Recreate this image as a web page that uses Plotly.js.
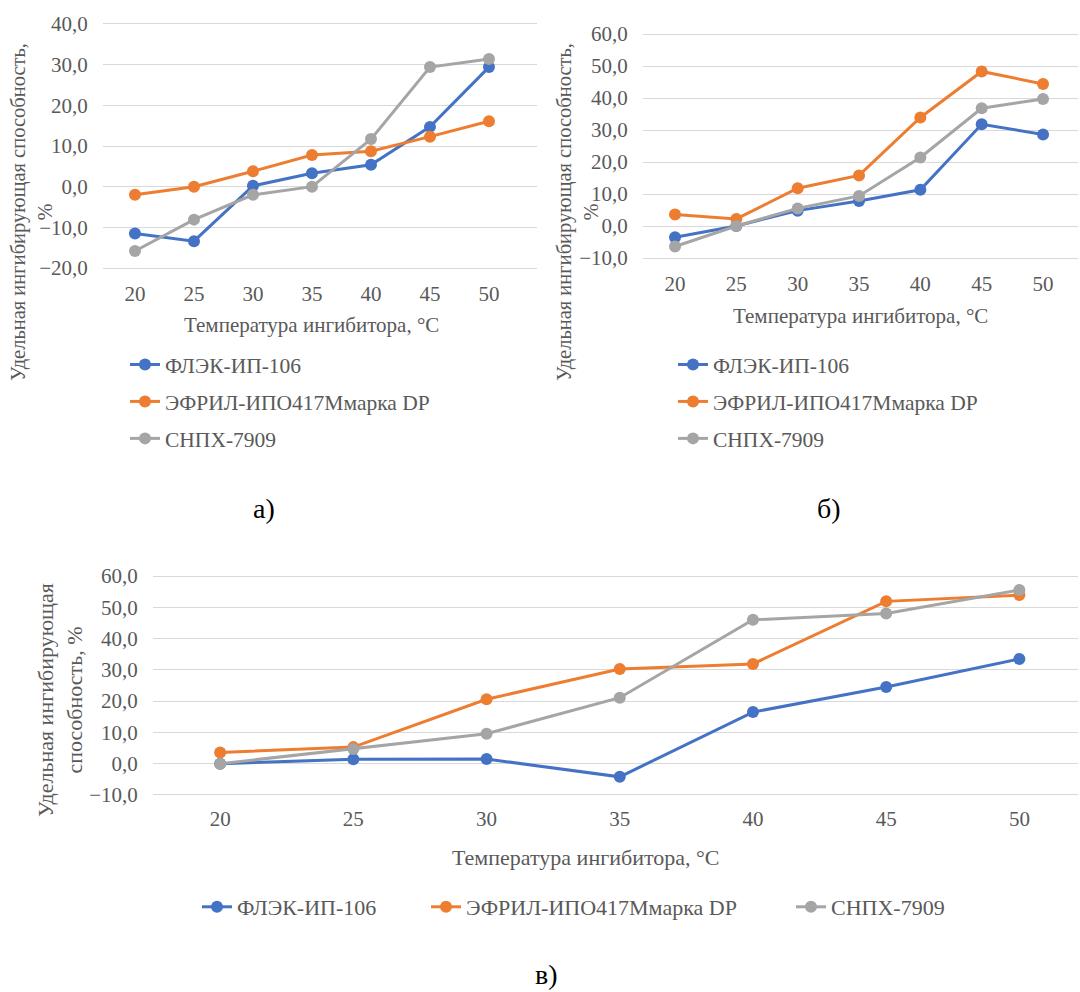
<!DOCTYPE html>
<html>
<head>
<meta charset="utf-8">
<script src="https://cdn.plot.ly/plotly-3.0.1.min.js"></script>
<style>html,body{margin:0;padding:0;background:#fff;}#chart{width:1080px;height:992px;}</style>
</head>
<body>
<div id="chart"></div>
<script>
// ---- data ----
const temps = [20, 25, 30, 35, 40, 45, 50];
const seriesNames = ["ФЛЭК-ИП-106", "ЭФРИЛ-ИПО417Ммарка DP", "СНПХ-7909"];
const seriesColors = ["#4472C4", "#ED7D31", "#A5A5A5"];

// а)
const a_flek  = [-11.5, -13.4, 0.2, 3.3, 5.4, 14.7, 29.4];
const a_efril = [-2.0, 0.0, 3.8, 7.8, 8.7, 12.3, 16.1];
const a_snpx  = [-15.8, -8.1, -2.0, 0.0, 11.7, 29.4, 31.4];
// б)
const b_flek  = [-3.5, 0.0, 4.8, 7.8, 11.3, 31.8, 28.6];
const b_efril = [3.6, 2.2, 11.8, 15.8, 33.9, 48.3, 44.4];
const b_snpx  = [-6.4, 0.0, 5.5, 9.4, 21.4, 36.8, 39.7];
// в)
const v_flek  = [0.0, 1.4, 1.5, -4.2, 16.5, 24.5, 33.5];
const v_efril = [3.6, 5.3, 20.6, 30.3, 31.9, 51.9, 53.9];
const v_snpx  = [0.0, 4.7, 9.6, 21.1, 46.0, 48.0, 55.5];

const xTitle = "Температура ингибитора, °C";
const yTitle1 = "Удельная ингибирующая способность,<br>%";
const yTitle2 = "Удельная ингибирующая<br>способность, %";
const panelLabels = ["а)", "б)", "в)"];

// ---- build ----
const FONT = "Liberation Serif";
const TXT = "#595959";
const panels = [
  {sets: [a_flek, a_efril, a_snpx], xa: "x",  ya: "y",  lg: ["legend", "legend", "legend"]},
  {sets: [b_flek, b_efril, b_snpx], xa: "x2", ya: "y2", lg: ["legend2", "legend2", "legend2"]},
  {sets: [v_flek, v_efril, v_snpx], xa: "x3", ya: "y3", lg: ["legend3", "legend4", "legend5"]}
];
const traces = [];
panels.forEach((p, pi) => {
  p.sets.forEach((vals, si) => {
    traces.push({
      x: temps, y: vals, type: "scatter", mode: "lines+markers",
      name: seriesNames[si], xaxis: p.xa, yaxis: p.ya, legend: p.lg[si],
      legendgroup: "g" + pi + "_" + si,
      line: {color: seriesColors[si], width: 3},
      marker: {color: seriesColors[si], size: 12, symbol: "circle"},
      hoverinfo: "x+y"
    });
  });
});

function xax(domain, range, tl) {
  return {domain: domain, range: range, tickvals: temps, ticktext: temps.map(String),
    showgrid: false, zeroline: false, showline: false, ticks: "outside", ticklen: tl,
    tickcolor: "rgba(0,0,0,0)", tickfont: {family: FONT, size: 21, color: TXT}, fixedrange: true};
}
function yax(domain, range, anchor) {
  return {domain: domain, range: range, dtick: 10, tickformat: ".1f", anchor: anchor,
    showgrid: true, gridcolor: "#D9D9D9", gridwidth: 1, zeroline: false, showline: false,
    ticks: "outside", ticklen: 10, tickcolor: "rgba(0,0,0,0)",
    tickfont: {family: FONT, size: 21, color: TXT}, fixedrange: true};
}
const W = 1080, H = 992;
const px = v => v / W, py = v => 1 - v / H;

const legendBase = {font: {family: FONT, size: 21.5, color: TXT}, bgcolor: "rgba(0,0,0,0)",
  borderwidth: 0, tracegroupgap: 6, itemclick: false, itemdoubleclick: false};
const hLeg = xpx => Object.assign({}, legendBase, {font: {family: FONT, size: 22, color: TXT},
  orientation: "h", x: px(xpx), y: py(907), xanchor: "left", yanchor: "middle", tracegroupgap: 0});

const ann = (text, x, y, size, extra) => Object.assign({text: text, xref: "paper", yref: "paper",
  x: px(x), y: py(y), showarrow: false, xanchor: "center", yanchor: "middle",
  font: {family: FONT, size: size, color: TXT}}, extra || {});

const layout = {
  width: W, height: H, margin: {l: 0, r: 0, t: 0, b: 0},
  paper_bgcolor: "#fff", plot_bgcolor: "rgba(0,0,0,0)",
  separators: ", ",
  font: {family: FONT, color: TXT},
  xaxis:  Object.assign(xax([px(103), px(537)], [17.29, 54.07], 3), {anchor: "y"}),
  yaxis:  yax([py(272.1), py(19.9)], [-21, 41], "x"),
  xaxis2: Object.assign(xax([px(643), px(1078)], [17.39, 52.85], 4), {anchor: "y2"}),
  yaxis2: yax([py(261.2), py(30.8)], [-11, 61], "x2"),
  xaxis3: Object.assign(xax([px(153), px(1078)], [17.48, 52.2], 2), {anchor: "y3"}),
  yaxis3: yax([py(798.1), py(572.9)], [-11, 61], "x3"),
  legend:  Object.assign({}, legendBase, {orientation: "v", x: px(125), y: py(344), xanchor: "left", yanchor: "top"}),
  legend2: Object.assign({}, legendBase, {orientation: "v", x: px(673), y: py(344), xanchor: "left", yanchor: "top"}),
  legend3: hLeg(197),
  legend4: hLeg(426),
  legend5: hLeg(791),
  showlegend: true,
  annotations: [
    ann(xTitle, 312, 325, 21),
    ann(xTitle, 860, 316, 21),
    ann(xTitle, 585, 857, 22),
    ann(yTitle1, 31, 212, 20.5, {textangle: -90}),
    ann(yTitle1, 577, 212, 20.5, {textangle: -90}),
    ann(yTitle2, 60, 700, 22, {textangle: -90}),
    ann(panelLabels[0], 264, 508, 28, {font: {family: FONT, size: 28, color: "#000"}}),
    ann(panelLabels[1], 829, 508, 28, {font: {family: FONT, size: 28, color: "#000"}}),
    ann(panelLabels[2], 546, 974, 28, {font: {family: FONT, size: 28, color: "#000"}})
  ]
};

Plotly.newPlot("chart", traces, layout, {displayModeBar: false, staticPlot: true});
</script>
</body>
</html>
